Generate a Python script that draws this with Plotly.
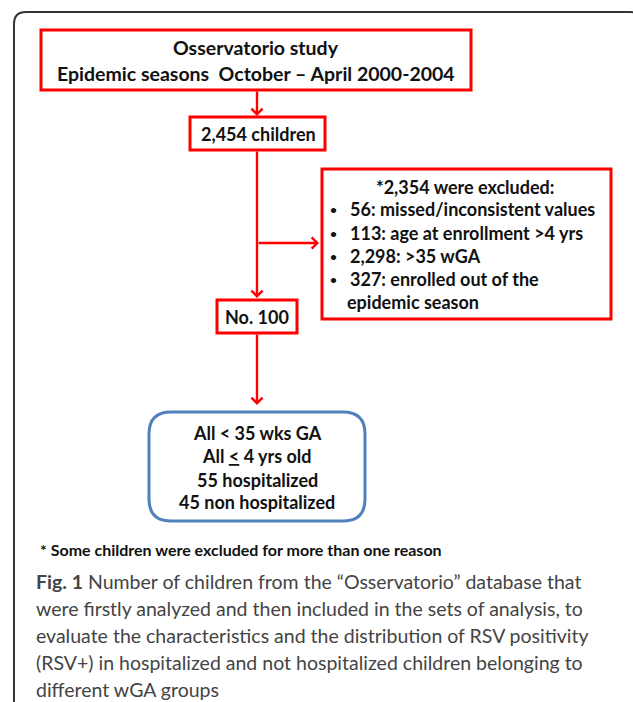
import plotly.graph_objects as go

# ---- content (texts of the flow chart) ----
title_lines = ["Osservatorio study", "Epidemic seasons  October \u2013 April 2000-2004"]
total_label = "2,454 children"
excl_header = "*2,354 were excluded:"
excl_items = ["56: missed/inconsistent values",
              "113: age at enrollment >4 yrs",
              "2,298: >35 wGA",
              "327: enrolled out of the"]
excl_cont = "epidemic season"
included_label = "No. 100"
final_lines = ["All &lt; 35 wks GA", "All <u>&lt;</u> 4 yrs old", "55 hospitalized", "45 non hospitalized"]
footnote = "* Some children were excluded for more than one reason"
caption_lines = [
    "<b>Fig. 1</b> Number of children from the \u201cOsservatorio\u201d database that",
    "were firstly analyzed and then included in the sets of analysis, to",
    "evaluate the characteristics and the distribution of RSV positivity",
    "(RSV+) in hospitalized and not hospitalized children belonging to",
    "different wGA groups",
]

W, H = 633, 702
RED = "#ff0000"
BLUE = "#4f81bd"
BOX_FONT = "Lato"
fig = go.Figure()

shapes = []
ann = []

def rect(x0, y0, x1, y1, color=RED, width=3):
    shapes.append(dict(type="rect", xref="x", yref="y", x0=x0, y0=y0, x1=x1, y1=y1,
                       line=dict(color=color, width=width), fillcolor="rgba(0,0,0,0)"))

def rrect(x0, y0, x1, y1, r, color, width):
    p = (f"M{x0+r},{y0} L{x1-r},{y0} Q{x1},{y0} {x1},{y0+r} L{x1},{y1-r} "
         f"Q{x1},{y1} {x1-r},{y1} L{x0+r},{y1} Q{x0},{y1} {x0},{y1-r} "
         f"L{x0},{y0+r} Q{x0},{y0} {x0+r},{y0} Z")
    shapes.append(dict(type="path", xref="x", yref="y", path=p,
                       line=dict(color=color, width=width), fillcolor="rgba(0,0,0,0)"))

def text(x, y, s, size, color="#111111", xanchor="center", bold=True, family=BOX_FONT, weight=None):
    f = dict(family=family, size=size, color=color)
    if weight is not None:
        f["weight"] = weight
    ann.append(dict(x=x, y=y, xref="x", yref="y", text=(f"<b>{s}</b>" if bold else s),
                    showarrow=False, xanchor=xanchor, yanchor="middle", font=f))

def arrow(x0, y0, x1, y1):
    ann.append(dict(x=x1, y=y1, ax=x0, ay=y0, xref="x", yref="y", axref="x", ayref="y",
                    text="", showarrow=True, arrowhead=4, arrowsize=0.9, arrowwidth=2.4,
                    arrowcolor=RED, standoff=0, startstandoff=0))

# outer frame (rounded, right side off-page)
fx0, fy0, fx1, r = 14, 12, 642, 12
shapes.append(dict(type="path", xref="x", yref="y",
                   path=f"M{fx0},{H+5} L{fx0},{fy0+r} Q{fx0},{fy0} {fx0+r},{fy0} L{fx1-r},{fy0} Q{fx1},{fy0} {fx1},{fy0+r} L{fx1},{H+5}",
                   line=dict(color="#333333", width=2), fillcolor="rgba(0,0,0,0)"))

# title box
rect(41, 30, 471, 90)
text(256, 47, title_lines[0], 19.5)
text(256, 73, title_lines[1], 19.5)

arrow(257, 90, 257, 116)

# total box
rect(190, 117, 325, 150)
text(258, 133.5, total_label, 18)

# main vertical line + branch
arrow(257, 150, 257, 298)
arrow(257, 243, 319, 243)

# exclusion box
rect(322, 169, 611, 319)
text(465, 187, excl_header, 18)
ys = [209, 233, 256, 279]
for y, s in zip(ys, excl_items):
    text(333, y, "\u2022", 12, xanchor="center")
    text(348, y, s, 18, xanchor="left")
text(345, 302, excl_cont, 18, xanchor="left")

# included box
rect(217, 300, 297, 333)
text(257, 316.5, included_label, 18)

arrow(257, 333, 257, 405)

# final rounded box
rrect(149, 412, 365, 521, 22, BLUE, 3)
for y, s in zip([433, 456, 480, 502], final_lines):
    text(257, y, s, 18)

# footnote
text(38, 549, footnote, 16, xanchor="left")

# caption
for i, s in enumerate(caption_lines):
    text(34, 581 + 27 * i, s, 19.5, color="#444444", xanchor="left", bold=False,
         family="Lato", weight=400)

fig.update_layout(
    width=W, height=H, margin=dict(l=0, r=0, t=0, b=0),
    paper_bgcolor="white", plot_bgcolor="white",
    xaxis=dict(range=[0, W], visible=False, fixedrange=True),
    yaxis=dict(range=[H, 0], visible=False, fixedrange=True),
    shapes=shapes, annotations=ann, showlegend=False,
)
fig.write_html("out.html", config={"displayModeBar": False},
               post_script="document.body.style.margin='0';document.body.style.overflow='hidden';")
